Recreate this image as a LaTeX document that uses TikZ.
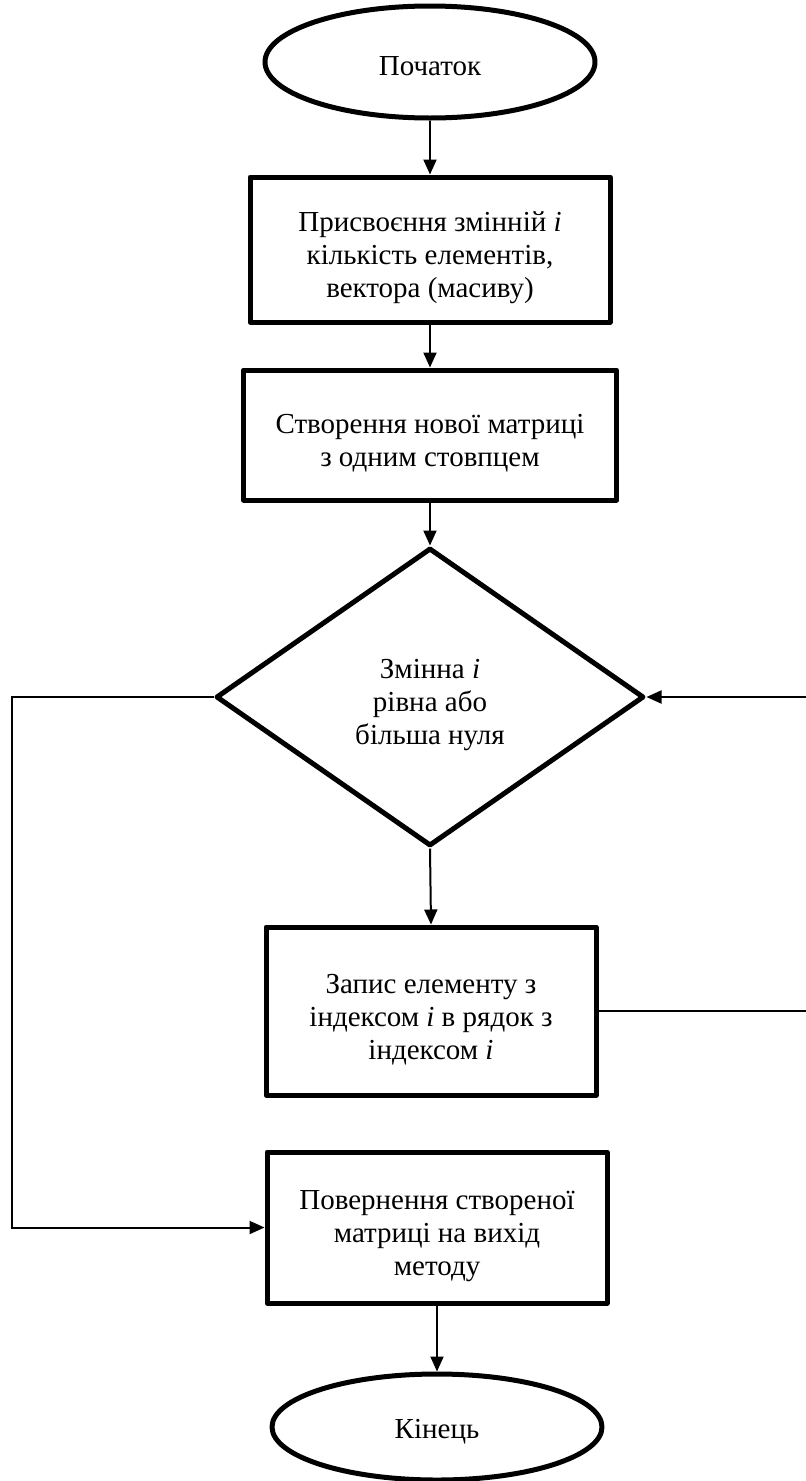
\documentclass[tikz,border=0pt]{standalone}
\usepackage{fontspec}
\setmainfont{Liberation Serif}
\usetikzlibrary{shapes.geometric,arrows.meta}

% tall strut on the first line: sets multi-line text a little below the centre
\newcommand{\firststrut}{\rule{0pt}{36pt}}

\tikzset{
  base/.style={draw, line width=5pt, align=center, inner sep=0pt,
    font=\fontsize{29}{33}\selectfont, line join=round},
  terminal/.style={base, ellipse},
  process/.style={base, rectangle},
  decision/.style={base, diamond, aspect=1.436},
  flow/.style={line width=2pt, -{Triangle[length=15pt,width=13pt]}},
}

\begin{document}
\begin{tikzpicture}[x=1pt, y=-1pt]
  \useasboundingbox (0,0) rectangle (806,1481);

  % blocks of the algorithm
  \node[terminal, minimum width=330pt, minimum height=112pt] (start) at (430,62)
    {\rule{0pt}{27pt}Початок};
  \node[process, minimum width=360pt, minimum height=145pt] (b1) at (430,249.5)
    {\firststrut Присвоєння змінній \textit{i}\\кількість елементів,\\вектора (масиву)};
  \node[process, minimum width=373pt, minimum height=130pt] (b2) at (430,435)
    {\firststrut Створення нової матриці\\з одним стовпцем};
  \node[decision, minimum width=428pt, minimum height=298pt] (dec) at (430,697)
    {\firststrut Змінна \textit{i}\\рівна або\\більша нуля};
  \node[process, minimum width=330pt, minimum height=168pt] (b3) at (431,1011)
    {\firststrut Запис елементу з\\індексом \textit{i} в рядок з\\індексом \textit{i}};
  \node[process, minimum width=340pt, minimum height=151pt] (b4) at (437,1227.5)
    {\firststrut Повернення створеної\\матриці на вихід\\методу};
  \node[terminal, minimum width=330pt, minimum height=106pt] (end) at (437,1427)
    {\rule{0pt}{29pt}Кінець};

  % bends of the loop lines
  \coordinate (rb) at (808,1011);
  \coordinate (rt) at (808,697);
  \coordinate (lt) at (12,697);
  \coordinate (lb) at (12,1227.5);

  % connectors
  \draw[flow] (start.south) -- (b1.north);
  \draw[flow] (b1.south) -- (b2.north);
  \draw[flow] (b2.south) -- (dec.north);
  \draw[flow] (dec.south) -- (b3.north);
  \draw[flow] (b3.east) -- (rb) -- (rt) -- (dec.east);
  \draw[flow] (dec.west) -- (lt) -- (lb) -- (b4.west);
  \draw[flow] (b4.south) -- (end.north);
\end{tikzpicture}
\end{document}
